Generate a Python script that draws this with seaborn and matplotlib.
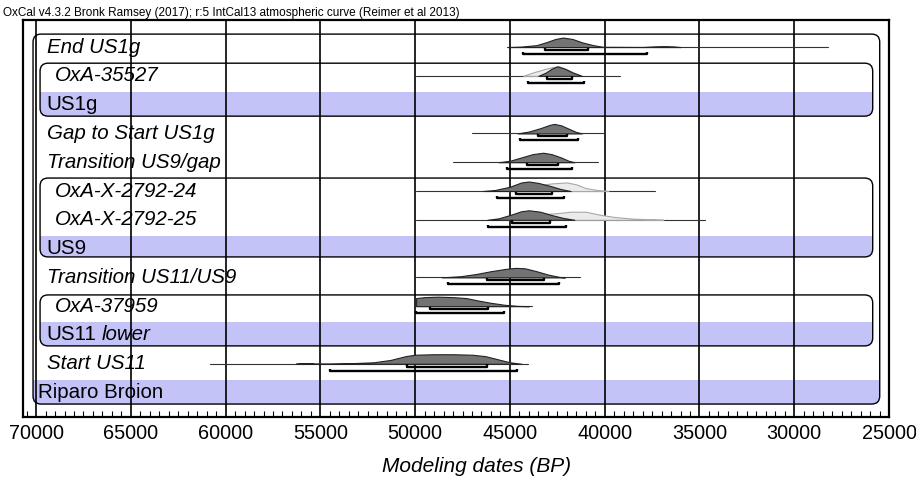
import numpy as np
import pandas as pd
import seaborn as sns
import matplotlib
matplotlib.use("Agg")
import matplotlib.pyplot as plt
from matplotlib.patches import FancyBboxPatch, Rectangle
from matplotlib.ticker import MultipleLocator

# ---------------- data ----------------
labels = ["End US1g", "OxA-35527", "US1g", "Gap to Start US1g", "Transition US9/gap",
          "OxA-X-2792-24", "OxA-X-2792-25", "US9", "Transition US11/US9",
          "OxA-37959", "US11", "Start US11", "Riparo Broion"]
label_kind = ["event", "date", "group", "event", "event", "date", "date", "group",
              "event", "date", "group", "event", "seq"]

# thin full-extent lines (BP)
line_old = [45130, 49940, np.nan, 46980, 47980, 49940, 49940, np.nan, 49940, 49940, np.nan, 60810, np.nan]
line_young = [28230, 39170, np.nan, 40060, 40330, 37320, 34730, np.nan, 41280, 43810, np.nan, 44020, np.nan]

# 68.2% and 95.4% ranges (BP)
r68_old = [43125, 43019, np.nan, 43494, 44075, 44656, 44867, np.nan, 46187, 49197, np.nan, 50412, np.nan]
r68_young = [40907, 41699, np.nan, 41963, 42438, 42755, 42861, np.nan, 43178, 46134, np.nan, 46187, np.nan]
r95_old = [44286, 44022, np.nan, 44445, 45131, 45658, 46134, np.nan, 48246, 49936, np.nan, 54477, np.nan]
r95_young = [37792, 41118, np.nan, 41382, 41699, 42122, 42016, np.nan, 42386, 45289, np.nan, 44603, np.nan]

# posterior shapes (year BP, relative density)
post0_yr = [45100, 44400, 43600, 43100, 42600, 42200, 41700, 41200, 40600, 40100, 38000, 37300, 36800, 36300, 36000]
post0_d = [0.0, 0.05, 0.2, 0.5, 0.85, 1.0, 0.85, 0.5, 0.2, 0.03, 0.01, 0.08, 0.1, 0.06, 0.0]
post1_yr = [43500, 43100, 42800, 42500, 42100, 41700, 41200]
post1_d = [0.0, 0.35, 0.75, 1.0, 0.75, 0.35, 0.0]
post3_yr = [44600, 44000, 43400, 42900, 42650, 42300, 41900, 41500, 41200]
post3_d = [0.0, 0.2, 0.55, 0.9, 1.0, 0.85, 0.5, 0.15, 0.0]
post4_yr = [45600, 45000, 44400, 43800, 43250, 42800, 42300, 41900, 41600]
post4_d = [0.0, 0.15, 0.5, 0.85, 1.0, 0.85, 0.5, 0.15, 0.0]
post5_yr = [46400, 45800, 45000, 44400, 44000, 43500, 42900, 42300, 41800]
post5_d = [0.0, 0.1, 0.45, 0.9, 1.0, 0.85, 0.55, 0.2, 0.0]
post6_yr = [46200, 45600, 45000, 44400, 44000, 43400, 42800, 42200, 41600]
post6_d = [0.0, 0.15, 0.5, 0.9, 1.0, 0.85, 0.5, 0.2, 0.0]
post8_yr = [48600, 47600, 46800, 46000, 45200, 44700, 44200, 43600, 43000, 42400, 42100]
post8_d = [0.0, 0.12, 0.35, 0.65, 0.9, 1.0, 0.95, 0.65, 0.3, 0.05, 0.0]
post9_yr = [49950, 49950, 49500, 48800, 48000, 47300, 46700, 46000, 45300, 44600, 44000]
post9_d = [0.0, 0.85, 0.95, 1.0, 0.95, 0.85, 0.6, 0.35, 0.15, 0.03, 0.0]
post11_yr = [56300, 56000, 55500, 55300, 54500, 53500, 52200, 51300, 50500, 50000, 49000, 48000, 47000, 46300, 45600, 45000, 44400]
post11_d = [0.0, 0.06, 0.06, 0.0, 0.0, 0.05, 0.15, 0.4, 0.8, 0.95, 1.0, 1.0, 0.95, 0.8, 0.45, 0.15, 0.0]

# unmodelled likelihoods (light)
like1_yr = [44300, 43800, 43200, 42700, 42400, 41900, 41300]
like1_d = [0.0, 0.35, 0.7, 0.95, 1.0, 0.6, 0.05]
like5_yr = [45500, 44800, 43800, 42800, 42000, 41500, 41000, 40300, 39800]
like5_d = [0.0, 0.2, 0.5, 0.8, 0.9, 0.7, 0.3, 0.08, 0.0]
like6_yr = [45500, 44500, 43500, 42500, 41800, 41000, 40300, 39500, 38500, 37500, 36900]
like6_d = [0.0, 0.3, 0.55, 0.7, 0.85, 0.85, 0.55, 0.3, 0.12, 0.05, 0.0]

posteriors = {0: (post0_yr, post0_d), 1: (post1_yr, post1_d), 3: (post3_yr, post3_d),
              4: (post4_yr, post4_d), 5: (post5_yr, post5_d), 6: (post6_yr, post6_d),
              8: (post8_yr, post8_d), 9: (post9_yr, post9_d), 11: (post11_yr, post11_d)}
likelihoods = {1: (like1_yr, like1_d), 5: (like5_yr, like5_d), 6: (like6_yr, like6_d)}

xticks = list(range(25000, 70001, 5000))
title_text = "OxCal v4.3.2 Bronk Ramsey (2017); r:5 IntCal13 atmospheric curve (Reimer et al 2013)"
xlabel_text = "Modeling dates (BP)"

# ---------------- style ----------------
sns.set_theme(style="white")
plt.rcParams['font.family'] = ['Liberation Sans', 'DejaVu Sans']
plt.rcParams['text.color'] = 'black'
plt.rcParams['xtick.color'] = 'black'
plt.rcParams['xtick.labelcolor'] = 'black'

W, H = 916, 486
fig = plt.figure(figsize=(W / 100, H / 100), dpi=100)
ax = fig.add_axes([23 / W, (H - 417) / H, (889 - 23) / W, (417 - 20) / H])
ax.set_xlim(70690, 25000)
ax.set_ylim(12.85, -0.94)

band_color = "#C3C3F7"
hump_h = 0.33
fs = 14.8

# boxes (x in years, y in rows)
px_year = 52.8
px_row = 28.8
aspect = (1 / px_row) / px_year
rad = 8 * px_year


def rbox(x_old, x_young, y_top, y_bot):
    p = FancyBboxPatch((x_young, y_top), x_old - x_young, y_bot - y_top,
                       boxstyle=f"round,pad=0,rounding_size={rad}",
                       mutation_aspect=aspect, facecolor="none",
                       edgecolor="black", lw=1.0, zorder=3, transform=ax.transData)
    ax.add_patch(p)
    return p


outer = rbox(70160, 25490, -0.45, 12.4)
box_us1g = rbox(69790, 25860, 0.56, 2.4)
box_us9 = rbox(69790, 25860, 4.55, 7.29)
box_us11 = rbox(69790, 25860, 8.61, 10.38)

for row, box in [(2, box_us1g), (7, box_us9), (10, box_us11), (12, outer)]:
    r = Rectangle((25000, row - 0.45), 46000, 0.88, facecolor=band_color,
                  edgecolor="none", zorder=1)
    ax.add_patch(r)
    r.set_clip_path(box)

# grid
ax.set_xticks(xticks)
ax.set_xticklabels([str(t) for t in xticks], fontsize=14.3, color="black")
ax.xaxis.set_minor_locator(MultipleLocator(500))
ax.tick_params(axis='x', which='major', length=0, pad=5, labelcolor="black")
ax.tick_params(axis='x', which='minor', direction='in', length=4, width=0.8,
               bottom=True, top=False, color='black')
ax.set_yticks([])
ax.grid(False)
for t in xticks[1:]:
    ax.axvline(t, color="black", lw=1.2, zorder=2)
for s in ax.spines.values():
    s.set_color("black")
    s.set_linewidth(1.6)

# thin lines via seaborn
rows_l, xs_l, units_l = [], [], []
for i in range(len(labels)):
    if not np.isnan(line_old[i]):
        rows_l += [i, i]
        xs_l += [line_old[i], line_young[i]]
        units_l += [i, i]
df_lines = pd.DataFrame({"year": xs_l, "row": rows_l, "unit": units_l})
sns.lineplot(data=df_lines, x="year", y="row", units="unit", estimator=None,
             sort=False, color="#333333", lw=0.8, ax=ax, zorder=4, legend=False)

# likelihoods
for i, (yr, d) in likelihoods.items():
    yr = np.array(yr); d = np.array(d)
    ax.fill_between(yr, i, i - d * hump_h, facecolor="#EBEBEB", edgecolor="#A8A8A8",
                    lw=0.8, zorder=4.5)

# posteriors
for i, (yr, d) in posteriors.items():
    yr = np.array(yr); d = np.array(d)
    ax.fill_between(yr, i, i - d * hump_h, facecolor="#737373", edgecolor="#222222",
                    lw=0.8, zorder=5)

# brackets
for i in range(len(labels)):
    if np.isnan(r68_old[i]):
        continue
    y68 = i + 0.1
    ax.plot([r68_old[i], r68_old[i], r68_young[i], r68_young[i]],
            [y68 - 0.08, y68, y68, y68 - 0.08], color="black", lw=1.7, zorder=6,
            solid_capstyle="butt")
    y95 = i + 0.24
    ax.plot([r95_old[i], r95_old[i], r95_young[i], r95_young[i]],
            [y95 - 0.07, y95, y95, y95 - 0.07], color="black", lw=1.7, zorder=6,
            solid_capstyle="butt")

# labels
xpos = {"event": 69420, "date": 69000, "group": 69470, "seq": 69894}
for i, (lab, kind) in enumerate(zip(labels, label_kind)):
    style = "italic" if kind in ("event", "date") else "normal"
    t = ax.text(xpos[kind], i, lab, fontsize=fs, style=style, va="center",
                ha="left", color="black", zorder=7)
    if lab == "US11":
        ax.annotate("lower", xy=(1, 0), xycoords=t, xytext=(4, 0),
                    textcoords="offset points", fontsize=fs, style="italic",
                    va="bottom", ha="left", color="black", zorder=7)

ax.set_xlabel("")
ax.set_ylabel("")
fig.text(477 / W, (H - 466) / H, xlabel_text, fontsize=15, style="italic",
         ha="center", va="center", color="black")
fig.text(3 / W, (H - 13) / H, title_text, fontsize=8.5, ha="left", va="center",
         color="black")

fig.savefig("out.png", dpi=100)
